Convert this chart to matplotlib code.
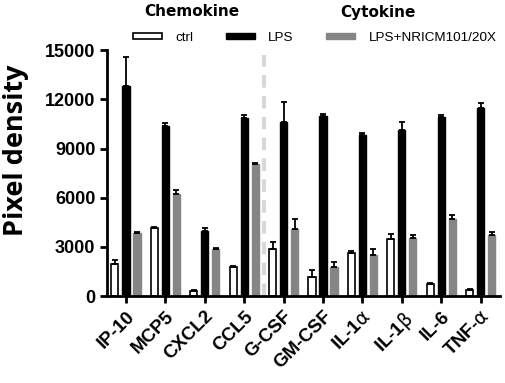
import matplotlib.pyplot as plt
import numpy as np

categories = ['IP-10', 'MCP5', 'CXCL2', 'CCL5', 'G-CSF', 'GM-CSF',
              r'IL-1$\mathrm{\alpha}$', r'IL-1$\mathrm{\beta}$', 'IL-6', r'TNF-$\mathrm{\alpha}$']
ctrl = [1950, 4150, 300, 1800, 2900, 1150, 2600, 3500, 750, 350]
ctrl_err = [250, 80, 60, 50, 400, 450, 150, 300, 60, 60]
lps = [12800, 10400, 3950, 10850, 10600, 11000, 9830, 10150, 10900, 11450]
lps_err = [1800, 150, 200, 200, 1250, 100, 100, 480, 150, 330]
nricm = [3850, 6250, 2900, 8050, 4080, 1800, 2500, 3550, 4700, 3700]
nricm_err = [50, 250, 50, 50, 650, 300, 400, 200, 250, 200]

plt.rcParams['font.family'] = ['Liberation Sans', 'DejaVu Sans']
plt.rcParams['mathtext.fontset'] = 'dejavusans'

fig = plt.figure(figsize=(5.05, 3.83), dpi=100)
ax = fig.add_axes([0.212, 0.227, 0.778, 0.642])

x = np.arange(len(categories))
w = 0.18
off = 0.28
ekw = dict(lw=1.3, capthick=1.3)

def up(err):
    return [np.zeros(len(err)), err]

ax.bar(x - off, ctrl, w, color='white', edgecolor='black', linewidth=1.2,
       yerr=up(ctrl_err), capsize=2, error_kw=ekw, label='ctrl')
ax.bar(x, lps, w, color='black', edgecolor='black',
       yerr=up(lps_err), capsize=2, error_kw=ekw, label='LPS')
ax.bar(x + off, nricm, w, color='#858585', edgecolor='#858585',
       yerr=up(nricm_err), capsize=2, error_kw=dict(lw=1.3, capthick=1.3, ecolor='black'),
       label='LPS+NRICM101/20X')

# divider between chemokines and cytokines
ax.axvline(3.5, ymin=0, ymax=0.98, color='#d8d8d8', lw=3, ls=(0, (3, 2)))

ax.set_xlim(-0.48, 9.49)
ax.set_ylim(0, 15000)
ax.set_yticks([0, 3000, 6000, 9000, 12000, 15000])
ax.set_xticks(x)
ax.set_xticklabels(categories, rotation=45, ha='right', rotation_mode='anchor',
                   fontsize=13.5, fontweight='bold')
for t in ax.get_yticklabels():
    t.set_fontsize(13)
    t.set_fontweight('bold')
ax.tick_params(width=2, length=5)
ax.spines['top'].set_visible(False)
ax.spines['right'].set_visible(False)
ax.spines['left'].set_linewidth(2)
ax.spines['bottom'].set_linewidth(2)

fig.text(16 / 505, 1 - 150 / 383, 'Pixel density', rotation=90, ha='center', va='center',
         fontsize=19.5, fontweight='bold', family=['Open Sans', 'DejaVu Sans'])

ax.legend(loc='center left', bbox_to_anchor=(133 / 505, 1 - 38 / 383),
          bbox_transform=fig.transFigure, ncol=3, frameon=False,
          fontsize=9.7, handlelength=2.15, handleheight=0.3, handletextpad=1.0,
          columnspacing=2.4, borderpad=0, borderaxespad=0)

fig.text(192 / 505, 1 - 12 / 383, 'Chemokine', ha='center', va='center', fontsize=11,
         fontweight='bold', family=['DejaVu Sans'])
fig.text(378 / 505, 1 - 12 / 383, 'Cytokine', ha='center', va='center', fontsize=11,
         fontweight='bold', family=['DejaVu Sans'])

fig.savefig('out.png', dpi=100)
